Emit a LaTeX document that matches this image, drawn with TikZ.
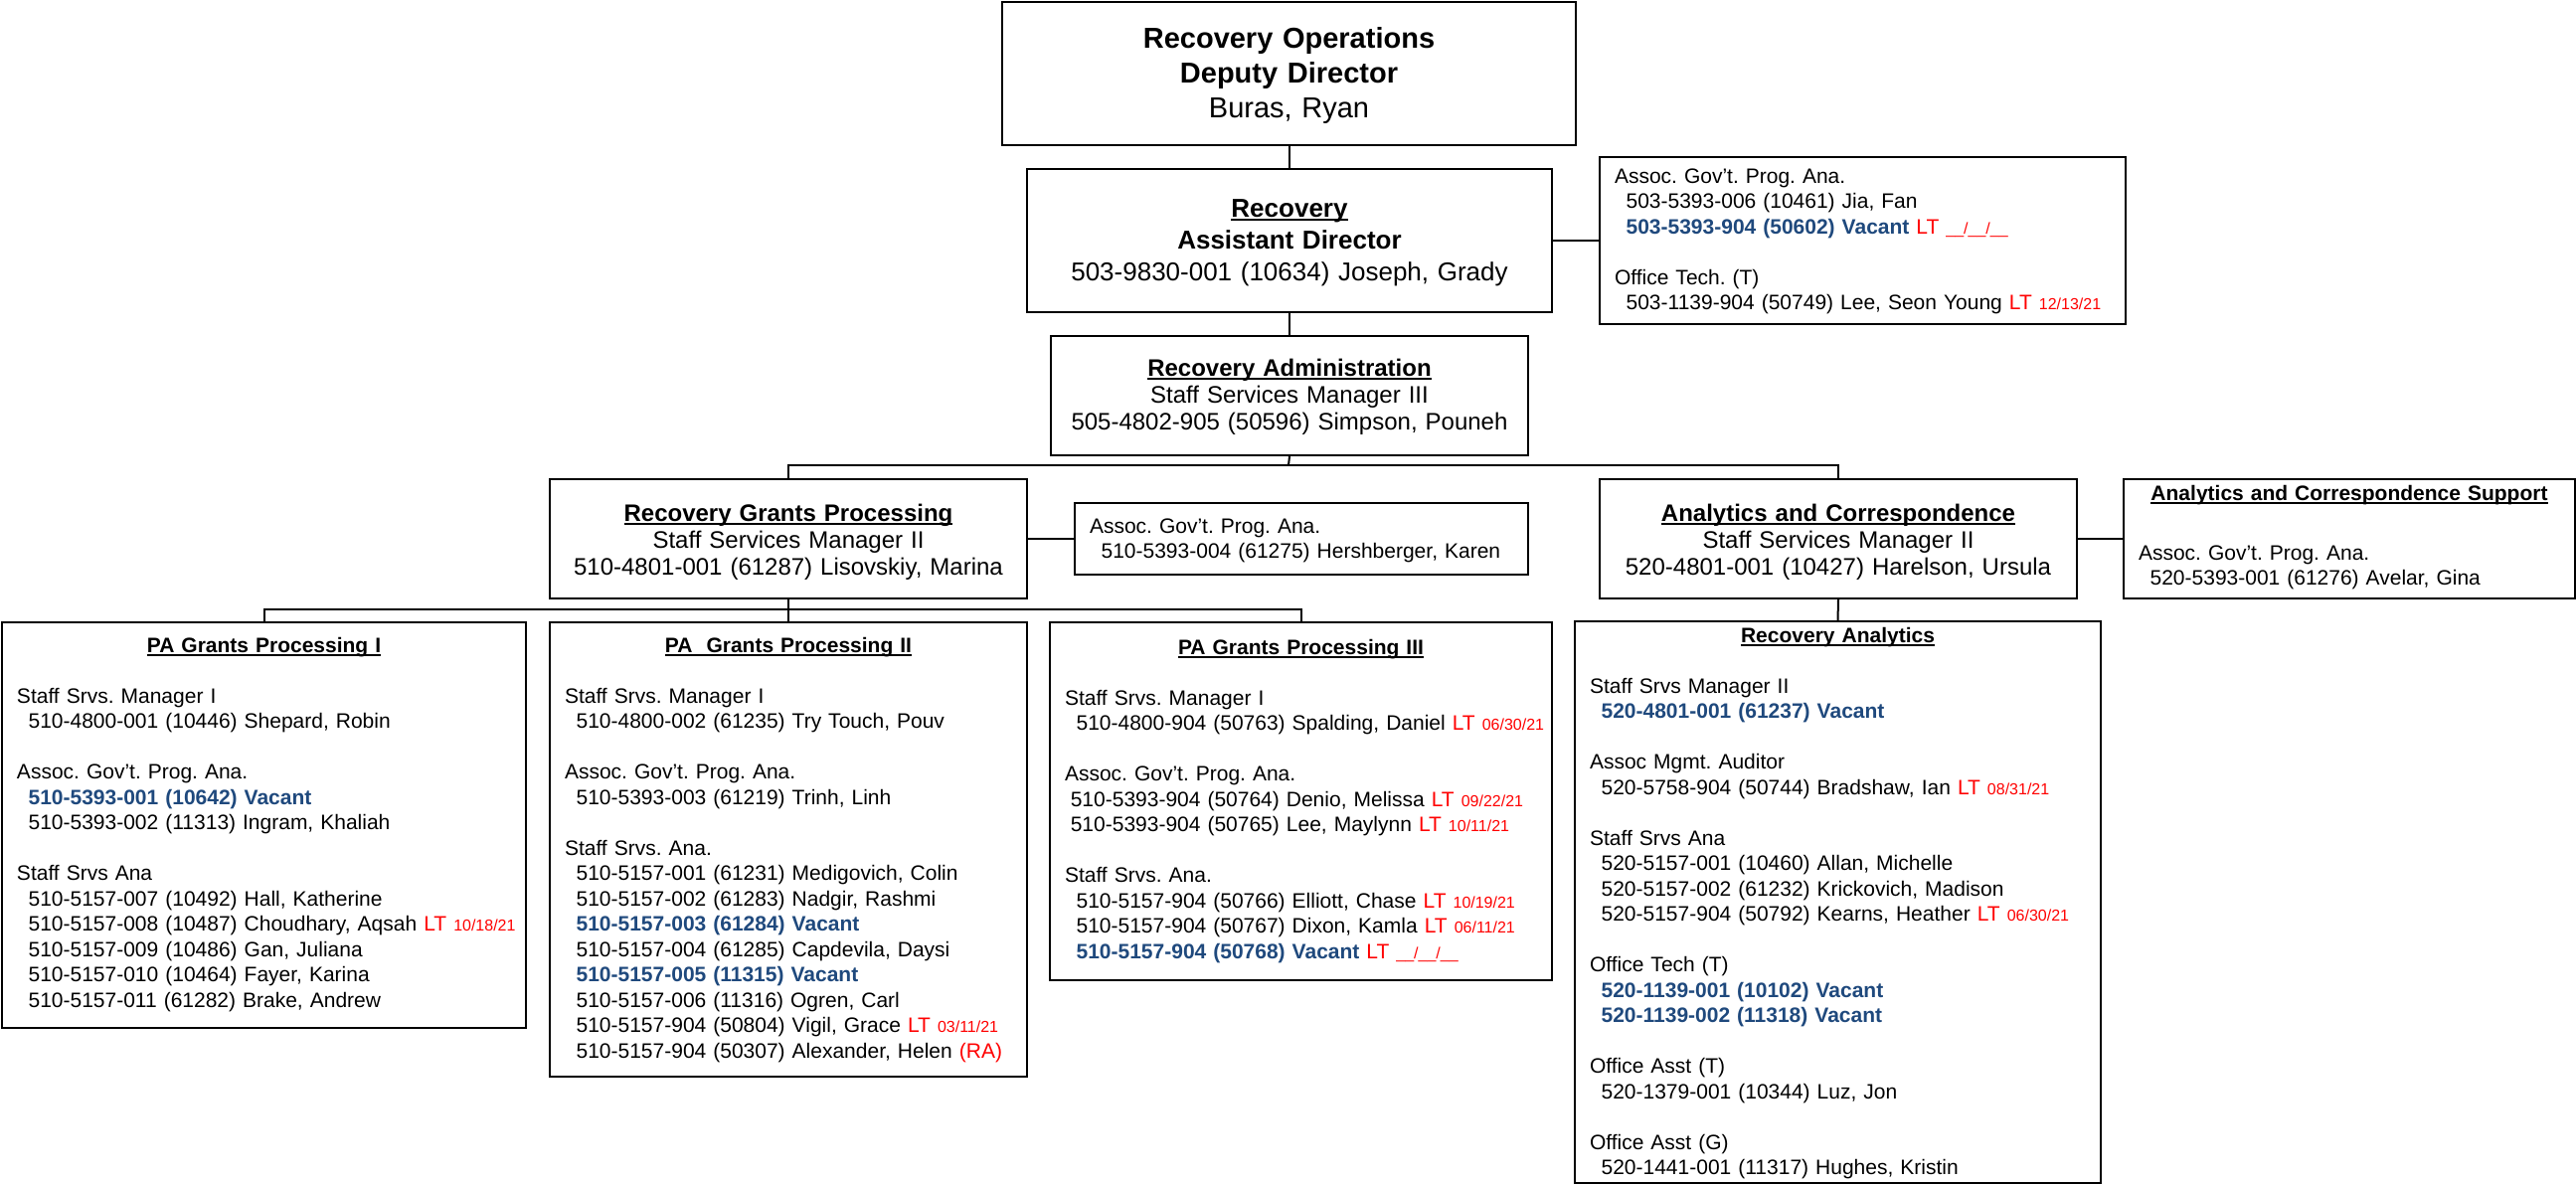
\documentclass[tikz,border=0pt]{standalone}
\usepackage{fontspec}
\setmainfont{Liberation Sans}
\frenchspacing
\definecolor{vacblue}{RGB}{31,73,125}
\definecolor{ltred}{RGB}{255,0,0}
\newsavebox\ulinebox
\newcommand\uline[1]{\sbox\ulinebox{#1}\rlap{\rule[-1.8pt]{\wd\ulinebox}{0.6pt}}\usebox\ulinebox}
\newcommand\vacant[1]{\textcolor{vacblue}{\bfseries #1}}
\newcommand\ltdate[1]{\textcolor{ltred}{LT {\fontsize{8}{9}\selectfont #1}}}
\newcommand\nodate{\textunderscore\textunderscore/\textunderscore\textunderscore/\textunderscore\textunderscore}
\newcommand\post[2][5.8pt]{\mbox{\hspace*{#1}#2}}
\newcommand\unithead[1]{\makebox[\linewidth]{\bfseries\uline{#1}}}
\newcommand\blank{\\[12.75pt]}
\tikzset{
  box/.style={draw, line width=1pt, anchor=north west, inner ysep=0pt},
  mgr/.style={box, inner xsep=0pt, align=center, font=\fontsize{12}{13.5}\selectfont},
  staff/.style={box, inner xsep=7.5pt, align=left, font=\fontsize{10.5}{12.75}\selectfont},
  bus/.style={line width=1pt},
}
\begin{document}
\begin{tikzpicture}[x=0.5pt,y=-0.5pt]
\useasboundingbox (0,0) rectangle (2591,1191);
% directors
\node[mgr, font=\fontsize{14.5}{17.5}\selectfont\bfseries, text width=288.5pt, text height=23pt, text depth=49pt] (dep) at (1007,1)
  {Recovery Operations\\Deputy Director\\\mdseries Buras, Ryan};
\node[mgr, font=\fontsize{13}{16}\selectfont, text width=264pt, text height=24pt, text depth=48pt] (asst) at (1032,169)
  {\textbf{\uline{Recovery}}\\\textbf{Assistant Director}\\503-9830-001 (10634) Joseph, Grady};
\node[staff, text width=249.5pt, text height=13pt, text depth=71pt] (asstaff) at (1608,157)
  {Assoc. Gov’t. Prog. Ana.\\ \post{503-5393-006 (10461) Jia, Fan}\\ \post{\vacant{503-5393-904 (50602) Vacant} \ltdate{\nodate}}\blank
   Office Tech. (T)\\ \post{503-1139-904 (50749) Lee, Seon Young \ltdate{12/13/21}}};
\node[mgr, text width=240pt, text height=20pt, text depth=40pt] (admin) at (1056,337)
  {\textbf{\uline{Recovery Administration}}\\Staff Services Manager III\\505-4802-905 (50596) Simpson, Pouneh};
% managers
\node[mgr, text width=240pt, text height=21pt, text depth=39pt] (grants) at (552,481)
  {\textbf{\uline{Recovery Grants Processing}}\\Staff Services Manager II\\510-4801-001 (61287) Lisovskiy, Marina};
\node[staff, text width=213pt, text height=15pt, text depth=21pt] (grstaff) at (1080,505)
  {Assoc. Gov’t. Prog. Ana.\\ \post{510-5393-004 (61275) Hershberger, Karen}};
\node[mgr, text width=240pt, text height=21pt, text depth=39pt] (ac) at (1608,481)
  {\textbf{\uline{Analytics and Correspondence}}\\Staff Services Manager II\\520-4801-001 (10427) Harelson, Ursula};
\node[staff, text width=212pt, text height=10.5pt, text depth=49.5pt] (acstaff) at (2135,481)
  {\unithead{Analytics and Correspondence Support}\\[17.25pt] Assoc. Gov’t. Prog. Ana.\\ \post{520-5393-001 (61276) Avelar, Gina}};
% units
\node[staff, text width=248.5pt, text height=15pt, text depth=189pt] (pa1) at (1,625)
  {\unithead{PA Grants Processing I}\blank
   Staff Srvs. Manager I\\ \post{510-4800-001 (10446) Shepard, Robin}\blank
   Assoc. Gov’t. Prog. Ana.\\ \post{\vacant{510-5393-001 (10642) Vacant}}\\ \post{510-5393-002 (11313) Ingram, Khaliah}\blank
   Staff Srvs Ana\\ \post{510-5157-007 (10492) Hall, Katherine}\\ \post{510-5157-008 (10487) Choudhary, Aqsah \ltdate{10/18/21}}\\
   \post{510-5157-009 (10486) Gan, Juliana}\\ \post{510-5157-010 (10464) Fayer, Karina}\\ \post{510-5157-011 (61282) Brake, Andrew}};
\node[staff, text width=225pt, text height=15pt, text depth=213.5pt] (pa2) at (552,625)
  {\unithead{PA\ \ Grants Processing II}\blank
   Staff Srvs. Manager I\\ \post{510-4800-002 (61235) Try Touch, Pouv}\blank
   Assoc. Gov’t. Prog. Ana.\\ \post{510-5393-003 (61219) Trinh, Linh}\blank
   Staff Srvs. Ana.\\ \post{510-5157-001 (61231) Medigovich, Colin}\\ \post{510-5157-002 (61283) Nadgir, Rashmi}\\
   \post{\vacant{510-5157-003 (61284) Vacant}}\\ \post{510-5157-004 (61285) Capdevila, Daysi}\\
   \post{\vacant{510-5157-005 (11315) Vacant}}\\ \post{510-5157-006 (11316) Ogren, Carl}\\
   \post{510-5157-904 (50804) Vigil, Grace \ltdate{03/11/21}}\\ \post{510-5157-904 (50307) Alexander, Helen \textcolor{ltred}{(RA)}}};
\node[staff, text width=237.5pt, text height=16pt, text depth=164pt] (pa3) at (1055,625)
  {\unithead{PA Grants Processing III}\blank
   Staff Srvs. Manager I\\ \post{510-4800-904 (50763) Spalding, Daniel \ltdate{06/30/21}}\blank
   Assoc. Gov’t. Prog. Ana.\\ \post[2.9pt]{510-5393-904 (50764) Denio, Melissa \ltdate{09/22/21}}\\
   \post[2.9pt]{510-5393-904 (50765) Lee, Maylynn \ltdate{10/11/21}}\blank
   Staff Srvs. Ana.\\ \post{510-5157-904 (50766) Elliott, Chase \ltdate{10/19/21}}\\
   \post{510-5157-904 (50767) Dixon, Kamla \ltdate{06/11/21}}\\ \post{\vacant{510-5157-904 (50768) Vacant} \ltdate{\nodate}}};
\node[staff, text width=249.5pt, text height=10.5pt, text depth=272pt] (ra) at (1583,624)
  {\unithead{Recovery Analytics}\blank
   Staff Srvs Manager II\\ \post{\vacant{520-4801-001 (61237) Vacant}}\blank
   Assoc Mgmt. Auditor\\ \post{520-5758-904 (50744) Bradshaw, Ian \ltdate{08/31/21}}\blank
   Staff Srvs Ana\\ \post{520-5157-001 (10460) Allan, Michelle}\\ \post{520-5157-002 (61232) Krickovich, Madison}\\
   \post{520-5157-904 (50792) Kearns, Heather \ltdate{06/30/21}}\blank
   Office Tech (T)\\ \post{\vacant{520-1139-001 (10102) Vacant}}\\ \post{\vacant{520-1139-002 (11318) Vacant}}\blank
   Office Asst (T)\\ \post{520-1379-001 (10344) Luz, Jon}\blank
   Office Asst (G)\\ \post{520-1441-001 (11317) Hughes, Kristin}};
% connectors
\coordinate (bus1) at (1296,468);
\coordinate (bus2) at (792,613);
\draw[bus] (dep.south) -- (dep.south |- asst.north);
\draw[bus] (asst) -- (asstaff);
\draw[bus] (asst.south) -- (admin.north);
\draw[bus] (admin.south) -- (bus1);
\draw[bus] (grants.north) |- (bus1) -| (ac.north);
\draw[bus] (grants) -- (grstaff);
\draw[bus] (ac) -- (acstaff);
\draw[bus] (grants.south) -- (pa2.north);
\draw[bus] (pa1.north) |- (bus2) -| (pa3.north);
\draw[bus] (ac.south) -- (ra.north);
\end{tikzpicture}
\end{document}
